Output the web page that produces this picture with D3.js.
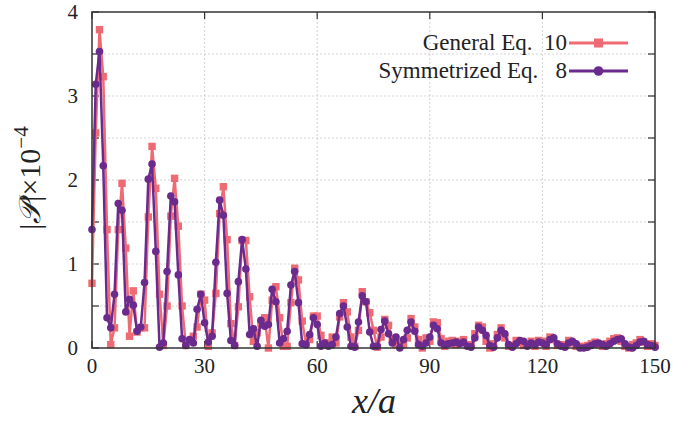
<!DOCTYPE html>
<head>
<meta charset="utf-8">
<style>
body { margin: 0; background: #fff; }
text { font-family: "Liberation Serif", "DejaVu Serif", serif; fill: #222; }
</style>
</head>
<body>
<script src="https://cdn.jsdelivr.net/npm/d3@7"></script>
<script>
// |P| x 1e-4, sampled at x/a = 0,1,...,150
var general = [0.77,2.56,3.79,3.23,1.41,0.04,0.24,1.41,1.96,1.19,0.14,0.68,0.19,0.24,0.24,1.56,2.40,1.90,0.64,0.03,
  0.50,1.57,2.02,1.45,0.50,0.03,0.08,0.14,0.25,0.64,0.57,0.02,0.18,0.65,1.60,1.92,1.29,0.29,0.03,0.49,
  1.28,1.28,0.61,0.08,0.18,0.29,0.36,0.00,0.57,0.73,0.36,0.02,0.02,0.54,0.95,0.81,0.32,0.05,0.10,0.38,
  0.38,0.15,0.06,0.06,0.13,0.06,0.37,0.54,0.43,0.13,0.02,0.21,0.67,0.55,0.42,0.21,0.01,0.13,0.34,0.27,
  0.11,0.04,0.06,0.04,0.12,0.35,0.25,0.10,0.00,0.12,0.08,0.31,0.30,0.11,0.02,0.08,0.09,0.04,0.08,0.10,
  0.03,0.04,0.17,0.27,0.25,0.08,0.00,0.05,0.16,0.24,0.12,0.02,0.03,0.09,0.07,0.03,0.05,0.08,0.02,0.09,
  0.08,0.02,0.13,0.10,0.03,0.04,0.03,0.09,0.06,0.02,0.02,0.01,0.03,0.05,0.07,0.04,0.02,0.05,0.08,0.11,
  0.12,0.08,0.02,0.00,0.04,0.06,0.10,0.07,0.02,0.05,0.03];
var symmetrized = [1.41,3.14,3.53,2.17,0.36,0.24,0.64,1.72,1.64,0.43,0.58,0.51,0.20,0.25,0.78,2.01,2.19,1.15,0.01,0.06,
  0.91,1.81,1.74,0.87,0.11,0.03,0.10,0.06,0.46,0.64,0.30,0.07,0.14,1.02,1.76,1.58,0.65,0.09,0.03,0.79,
  1.29,0.94,0.16,0.23,0.02,0.33,0.26,0.28,0.70,0.55,0.06,0.11,0.20,0.75,0.91,0.54,0.05,0.04,0.16,0.36,
  0.28,0.02,0.06,0.02,0.04,0.13,0.41,0.50,0.25,0.02,0.01,0.31,0.62,0.55,0.19,0.02,0.02,0.22,0.32,0.17,
  0.06,0.13,0.00,0.10,0.21,0.31,0.20,0.04,0.02,0.06,0.13,0.27,0.23,0.06,0.04,0.05,0.06,0.07,0.05,0.07,
  0.02,0.01,0.12,0.25,0.21,0.15,0.03,0.01,0.12,0.21,0.17,0.04,0.01,0.05,0.09,0.08,0.02,0.06,0.04,0.07,
  0.06,0.04,0.10,0.12,0.05,0.02,0.01,0.06,0.08,0.05,0.00,0.00,0.01,0.03,0.05,0.06,0.04,0.02,0.05,0.08,
  0.10,0.11,0.05,0.01,0.00,0.03,0.07,0.08,0.04,0.03,0.01];
var xTicks = [0, 30, 60, 90, 120, 150];
var yTicks = [0, 1, 2, 3, 4];
var yGrid = [0.5, 1, 1.5, 2, 2.5, 3, 3.5];
var seriesNames = ["General Eq.  10", "Symmetrized Eq.   8"];

var width = 692, height = 426;
var m = {left: 92, right: 37, top: 12, bottom: 78};
var red = "#ef6b73", purple = "#6a2a8e";

var svg = d3.select("body").append("svg")
    .attr("width", width)
    .attr("height", height);

var x = d3.scaleLinear().domain([0, 150]).range([m.left, width - m.right]);
var y = d3.scaleLinear().domain([0, 4]).range([height - m.bottom, m.top]);

// grid
svg.append("g").selectAll("line").data(yGrid).enter().append("line")
    .attr("x1", x(0)).attr("x2", x(150))
    .attr("y1", d => y(d)).attr("y2", d => y(d))
    .attr("stroke", "#c8c8c8").attr("stroke-width", 0.8).attr("stroke-dasharray", "2,2");
svg.append("g").selectAll("line").data(xTicks.slice(1, -1)).enter().append("line")
    .attr("x1", d => x(d)).attr("x2", d => x(d))
    .attr("y1", y(0)).attr("y2", y(4))
    .attr("stroke", "#c8c8c8").attr("stroke-width", 0.8).attr("stroke-dasharray", "2,2");

// ticks (inside, mirrored)
var tk = 7;
var yAll = [0].concat(yGrid, [4]);
yAll.forEach(function (v) {
    svg.append("line").attr("x1", x(0)).attr("x2", x(0) + tk).attr("y1", y(v)).attr("y2", y(v))
        .attr("stroke", "#333").attr("stroke-width", 1.2);
    svg.append("line").attr("x1", x(150)).attr("x2", x(150) - tk).attr("y1", y(v)).attr("y2", y(v))
        .attr("stroke", "#333").attr("stroke-width", 1.2);
});
xTicks.forEach(function (v) {
    svg.append("line").attr("x1", x(v)).attr("x2", x(v)).attr("y1", y(0)).attr("y2", y(0) - tk)
        .attr("stroke", "#333").attr("stroke-width", 1.2);
    svg.append("line").attr("x1", x(v)).attr("x2", x(v)).attr("y1", y(4)).attr("y2", y(4) + tk)
        .attr("stroke", "#333").attr("stroke-width", 1.2);
});

// tick labels
svg.append("g").selectAll("text").data(xTicks).enter().append("text")
    .attr("x", d => x(d)).attr("y", y(0) + 25)
    .attr("text-anchor", "middle").attr("font-size", 21)
    .text(d => d);
svg.append("g").selectAll("text").data(yTicks).enter().append("text")
    .attr("x", x(0) - 14).attr("y", d => y(d) + 7)
    .attr("text-anchor", "end").attr("font-size", 21)
    .text(d => d);

// series
var line = d3.line().x((d, i) => x(i)).y(d => y(d));
svg.append("path").datum(general)
    .attr("d", line).attr("fill", "none")
    .attr("stroke", red).attr("stroke-width", 2.5);
svg.append("g").selectAll("rect").data(general).enter().append("rect")
    .attr("x", (d, i) => x(i) - 3.7).attr("y", d => y(d) - 3.7)
    .attr("width", 7.4).attr("height", 7.4)
    .attr("fill", red);
svg.append("path").datum(symmetrized)
    .attr("d", line).attr("fill", "none")
    .attr("stroke", purple).attr("stroke-width", 2.5);
svg.append("g").selectAll("circle").data(symmetrized).enter().append("circle")
    .attr("cx", (d, i) => x(i)).attr("cy", d => y(d))
    .attr("r", 3.8)
    .attr("fill", purple);

// frame
svg.append("rect")
    .attr("x", x(0)).attr("y", y(4))
    .attr("width", x(150) - x(0)).attr("height", y(0) - y(4))
    .attr("fill", "none").attr("stroke", "#333").attr("stroke-width", 1.5);

// legend
var lg = svg.append("g");
[[red, "rect"], [purple, "circle"]].forEach(function (s, i) {
    var ly = 43 + i * 28;
    lg.append("text").attr("x", 567).attr("y", ly + 7)
        .attr("text-anchor", "end").attr("font-size", 23)
        .style("white-space", "pre")
        .text(seriesNames[i]);
    lg.append("line").attr("x1", 569).attr("x2", 628).attr("y1", ly).attr("y2", ly)
        .attr("stroke", s[0]).attr("stroke-width", 3);
    if (s[1] == "rect") {
        lg.append("rect").attr("x", 598.5 - 4.5).attr("y", ly - 4.5)
            .attr("width", 9).attr("height", 9).attr("fill", s[0]);
    } else {
        lg.append("circle").attr("cx", 598.5).attr("cy", ly).attr("r", 4.8).attr("fill", s[0]);
    }
});

// axis labels
svg.append("text")
    .attr("transform", "translate(40," + 178 + ") rotate(-90)")
    .attr("text-anchor", "middle").attr("font-size", 30)
    .html('|<tspan font-style="italic">𝒫</tspan>|×10<tspan dy="-12" font-size="21">−4</tspan>');
svg.append("text")
    .attr("x", 374).attr("y", 413)
    .attr("text-anchor", "middle").attr("font-size", 36).attr("font-style", "italic")
    .text("x/a");
</script>
</body>
